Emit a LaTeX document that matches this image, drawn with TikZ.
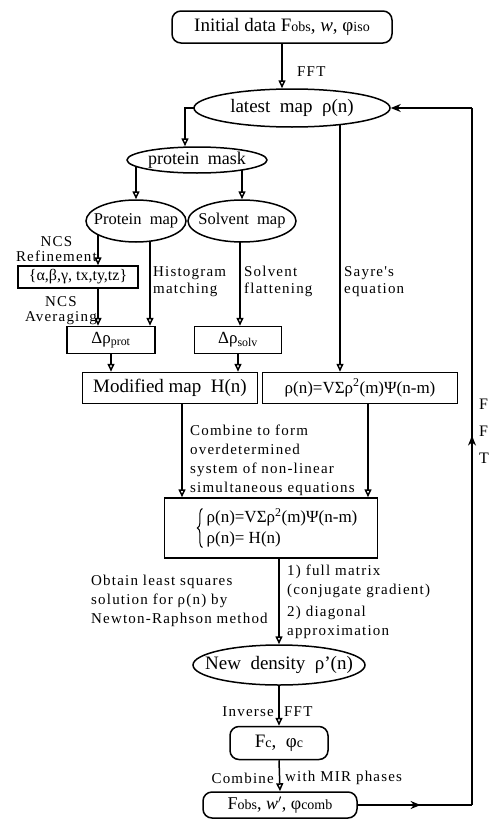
\documentclass[tikz,border=0pt]{standalone}
\usepackage{fontspec}
\setmainfont{Liberation Serif}
\newfontfamily\lblfont[LetterSpace=8]{Liberation Serif}
\usepackage{tikz}
\usetikzlibrary{shapes,arrows.meta,decorations.markings,decorations.pathreplacing,backgrounds}
\newcommand{\inoval}[1]{\makebox[0pt]{#1}}
\newcommand{\sub}[1]{{\fontsize{14}{14}\selectfont #1}}
\tikzstyle{block} = [draw,rectangle,line width=1.5pt,fill=white,inner sep=0pt,font=\fontsize{19}{22}\selectfont]
\tikzstyle{rblock} = [block,rounded corners=9pt]
\tikzstyle{oval} = [draw,ellipse,line width=1.5pt,fill=white,inner sep=0pt,font=\fontsize{19}{22}\selectfont]
\tikzstyle{lbl} = [inner sep=0pt,align=left,font=\lblfont\fontsize{15}{19}\selectfont]
\tikzstyle{arrowLine} = [draw,line width=1.5pt,-{Triangle[open,length=8pt,width=7pt]}]
\tikzstyle{backLine} = [draw,line width=1.5pt]
\tikzset{midArrow/.style={postaction={decorate},decoration={markings,mark=at position #1 with {\arrow{Stealth[length=10pt,width=8pt]}}}}}

\begin{document}
\begin{tikzpicture}[x=1pt,y=-1pt]
	\useasboundingbox (0,0) rectangle (492,819);
	\node[rblock,minimum width=220pt,minimum height=32pt](init) at (282,27){Initial data F\sub{obs}, \textit{w}, φ\sub{iso}};
	\node[oval,minimum width=196pt,minimum height=38pt](latest) at (292,108){\inoval{latest\ \ map\ \ ρ(n)}};
	\node[oval,minimum width=140pt,minimum height=26pt,font=\fontsize{18}{20}\selectfont](mask) at (197,160){\inoval{protein\ \ mask}};
	\node[oval,minimum width=100pt,minimum height=42pt,font=\fontsize{16.5}{19}\selectfont](pmap) at (136,221){\inoval{Protein\ \ map}};
	\node[oval,minimum width=108pt,minimum height=42pt,font=\fontsize{16.5}{19}\selectfont](smap) at (242,221){\inoval{Solvent\ \ map}};
	\node[block,minimum width=120pt,minimum height=22pt,font=\fontsize{16}{18}\selectfont](ang) at (78,277){\{α,β,γ, tx,ty,tz\}};
	\node[block,minimum width=88pt,minimum height=27pt,font=\fontsize{17}{20}\selectfont](dprot) at (111,340){Δρ\textsubscript{prot}};
	\node[block,minimum width=87pt,minimum height=27pt,font=\fontsize{17}{20}\selectfont](dsolv) at (238,340){Δρ\textsubscript{solv}};
	\node[block,minimum width=175pt,minimum height=31pt](modmap) at (170,388){Modified map\ \ H(n)};
	\node[block,minimum width=195pt,minimum height=31pt,font=\fontsize{17}{20}\selectfont](sayre) at (360,388){ρ(n)=VΣρ\textsuperscript{2}(m)Ψ(n-m)};
	\node[block,minimum width=213pt,minimum height=60pt](system) at (271,528){};
	\node[inner sep=0pt,font=\fontsize{17}{21}\selectfont,align=left](sysEq) at (282,528){ρ(n)=VΣρ\textsuperscript{2}(m)Ψ(n-m)\\ρ(n)= H(n)};
	\draw[line width=1pt,decorate,decoration={brace,amplitude=5pt}]([xshift=-4pt]sysEq.south west)--([xshift=-4pt]sysEq.north west);
	\node[oval,minimum width=172pt,minimum height=40pt](newdens) at (279,665){\inoval{New\ \ density\ \ ρ'(n)}};
	\node[rblock,minimum width=98pt,minimum height=33pt](fc) at (279,743){F\sub{c}, \ φ\sub{c}};
	\node[rblock,minimum width=154pt,minimum height=26pt,font=\fontsize{18}{20}\selectfont](fobs) at (280,805){F\sub{obs}, \textit{w}$'$, φ\sub{comb}};
	%labels
	\node[lbl,anchor=west](fftTop) at (297,72){FFT};
	\node[lbl,anchor=east,align=center,font=\lblfont\fontsize{15}{15}\selectfont](ncsRef) at (97,249){NCS\\Refinement};
	\node[lbl,anchor=east,align=center,font=\lblfont\fontsize{15}{15}\selectfont](ncsAvg) at (97,311){NCS\\Averaging};
	\node[lbl,anchor=north west,font=\lblfont\fontsize{15}{17}\selectfont](histLbl) at (153,266){Histogram\\matching};
	\node[lbl,anchor=north west,font=\lblfont\fontsize{15}{17}\selectfont](solvLbl) at (244,266){Solvent\\flattening};
	\node[lbl,anchor=north west,font=\lblfont\fontsize{15}{17}\selectfont](sayreLbl) at (344,266){Sayre's\\equation};
	\node[lbl,anchor=north west](combLbl) at (190,425){Combine to form\\overdetermined\\system of non-linear\\simultaneous equations};
	\node[lbl,anchor=north west](lsqLbl) at (91,575){Obtain least squares\\solution for ρ(n) by\\Newton-Raphson method};
	\node[lbl,anchor=north west](methLbl) at (287,565){1) full matrix\\(conjugate gradient)\\[3pt]2) diagonal\\approximation};
	\node[lbl,anchor=east](invLbl) at (274,712){Inverse};
	\node[lbl,anchor=west](fftBot) at (284,712){FFT};
	\node[lbl,anchor=east](combMir) at (274,778){Combine};
	\node[lbl,anchor=west](mirLbl) at (285,778){with MIR phases};
	\node[lbl,anchor=north west,font=\fontsize{16}{27}\selectfont](fftBack) at (479,399){F\\F\\T};
	%columns
	\coordinate(ncs) at (98,0);
	\coordinate(hist) at (150,0);
	\coordinate(solv) at (240,0);
	\coordinate(sayreEq) at (340,0);
	\coordinate(combL) at (182,0);
	\coordinate(combR) at (368,0);
	\coordinate(retTop) at (472,108);
	\coordinate(retBot) at (472,805);
	%arrows
	\begin{scope}[on background layer]
		\path[arrowLine](init.south)--(init.south |- latest.north);
		\path[arrowLine](latest.center)-|([xshift=-12pt]mask.north);
		\path[arrowLine](mask.center -| pmap.north)--(pmap.north);
		\path[arrowLine](mask.center -| smap.north)--(smap.north);
		\path[arrowLine](pmap.center -| ncs)--(ang.north -| ncs);
		\path[arrowLine](ang.south -| ncs)--(dprot.north -| ncs);
		\path[arrowLine](pmap.center -| hist)--(dprot.north -| hist);
		\path[arrowLine](smap.center -| solv)--(dsolv.north -| solv);
		\path[arrowLine](dprot.south)--(dprot.south |- modmap.north);
		\path[arrowLine](dsolv.south)--(dsolv.south |- modmap.north);
		\path[arrowLine](latest.center -| sayreEq)--(sayre.north -| sayreEq);
		\path[arrowLine](modmap.south -| combL)--(system.north -| combL);
		\path[arrowLine](sayre.south -| combR)--(system.north -| combR);
		\path[arrowLine](system.south -| newdens.north)--(newdens.north);
		\path[arrowLine](newdens.south)--(fc.north);
		\path[arrowLine](fc.south)--(fobs.north);
		\path[backLine,midArrow=0.55](fobs.east)--(retBot);
		\path[backLine,midArrow=0.53](retBot)--(retTop);
		\path[backLine,-{Stealth[length=10pt,width=8pt]}](retTop)--(latest.east);
	\end{scope}
\end{tikzpicture}
\end{document}
